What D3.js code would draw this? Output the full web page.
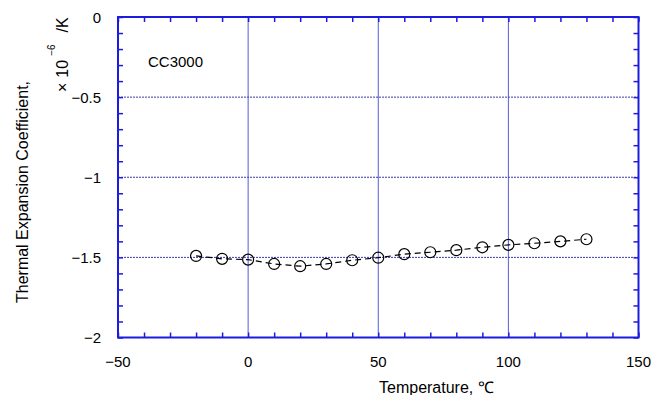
<!DOCTYPE html>
<html>
<head>
<meta charset="utf-8">
<script src="https://cdn.jsdelivr.net/npm/d3@7"></script>
<style>
body { margin: 0; background: #fff; }
text { font-family: "Liberation Sans", Arial, sans-serif; fill: #000; }
</style>
</head>
<body>
<div id="chart"></div>
<script>
// data
var temps = [-20, -10, 0, 10, 20, 30, 40, 50, 60, 70, 80, 90, 100, 110, 120, 130];
var cte = [-1.491, -1.509, -1.514, -1.541, -1.555, -1.541, -1.518, -1.502,
           -1.480, -1.468, -1.455, -1.437, -1.422, -1.412, -1.400, -1.387];
var xTicks = [-50, 0, 50, 100, 150];
var yTicks = [-2, -1.5, -1, -0.5, 0];
var sampleName = "CC3000";

var width = 651, height = 395;
var pLeft = 118, pRight = 638.5, pTop = 17, pBottom = 337.5;

var svg = d3.select("#chart").append("svg")
    .attr("width", width).attr("height", height);

var x = d3.scaleLinear().domain([-50, 150]).range([pLeft, pRight]);
var y = d3.scaleLinear().domain([-2, 0]).range([pBottom, pTop]);

var blue = "#1c1ce0";
var grid = "#5a5ad8";

// grid lines
svg.append("g").selectAll("line")
    .data(xTicks.slice(1, -1))
    .enter().append("line")
    .attr("x1", function (d) { return x(d); })
    .attr("x2", function (d) { return x(d); })
    .attr("y1", pTop).attr("y2", pBottom)
    .attr("stroke", grid).attr("stroke-width", 1);

svg.append("g").selectAll("line")
    .data(yTicks.slice(1, -1))
    .enter().append("line")
    .attr("y1", function (d) { return y(d); })
    .attr("y2", function (d) { return y(d); })
    .attr("x1", pLeft).attr("x2", pRight)
    .attr("stroke", "#3b3ba8").attr("stroke-width", 1)
    .attr("stroke-dasharray", "2,1");

// minor ticks, inward on all four sides
var xMinor = d3.range(-50, 151, 10);
var yMinor = d3.range(0, 21).map(function (i) { return -2 + i * 0.1; });

svg.append("g").attr("transform", "translate(0," + pBottom + ")")
    .call(d3.axisTop(x).tickValues(xMinor).tickSize(5).tickFormat(""));
svg.append("g").attr("transform", "translate(0," + pTop + ")")
    .call(d3.axisBottom(x).tickValues(xMinor).tickSize(5).tickFormat(""));
svg.append("g").attr("transform", "translate(" + pLeft + ",0)")
    .call(d3.axisRight(y).tickValues(yMinor).tickSize(5).tickFormat(""));
svg.append("g").attr("transform", "translate(" + pRight + ",0)")
    .call(d3.axisLeft(y).tickValues(yMinor).tickSize(5).tickFormat(""));

svg.selectAll(".tick line").attr("stroke", blue).attr("stroke-width", 1.5);
svg.selectAll(".domain").remove();

// frame
svg.append("rect")
    .attr("x", pLeft).attr("y", pTop)
    .attr("width", pRight - pLeft).attr("height", pBottom - pTop)
    .attr("fill", "none").attr("stroke", blue).attr("stroke-width", 2);

// tick labels
var fmt = function (d) { return d3.format("")(d).replace("-", "\u2212"); };

svg.append("g").selectAll("text")
    .data(xTicks).enter().append("text")
    .attr("x", function (d) { return x(d); })
    .attr("y", 367)
    .attr("text-anchor", "middle")
    .attr("font-size", 15)
    .text(fmt);

svg.append("g").selectAll("text")
    .data(yTicks).enter().append("text")
    .attr("x", 101)
    .attr("y", function (d) { return y(d) + 5.5; })
    .attr("text-anchor", "end")
    .attr("font-size", 15)
    .text(fmt);

// axis titles
svg.append("text")
    .attr("x", 379).attr("y", 393)
    .attr("font-size", 16)
    .text("Temperature, \u2103");

svg.append("text")
    .attr("transform", "translate(28,303) rotate(-90)")
    .attr("font-size", 16)
    .text("Thermal Expansion Coefficient,");

var unit = svg.append("text")
    .attr("transform", "translate(68,92) rotate(-90)")
    .attr("font-size", 16);
unit.append("tspan").text("\u00d7");
unit.append("tspan").attr("dx", 5).text("10");
unit.append("tspan").attr("dx", 4).attr("dy", -13).attr("font-size", 10).text("\u22126");
unit.append("tspan").attr("dx", 12).attr("dy", 13).text("/K");

// sample label
svg.append("text")
    .attr("x", 148).attr("y", 66.5)
    .attr("font-size", 15)
    .text(sampleName);

// series
var pts = temps.map(function (t, i) { return [t, cte[i]]; });

svg.append("path")
    .datum(pts)
    .attr("fill", "none")
    .attr("stroke", "#000")
    .attr("stroke-width", 1.2)
    .attr("stroke-dasharray", "6,4")
    .attr("d", d3.line()
        .x(function (d) { return x(d[0]); })
        .y(function (d) { return y(d[1]); }));

svg.append("g").selectAll("circle")
    .data(pts).enter().append("circle")
    .attr("cx", function (d) { return x(d[0]); })
    .attr("cy", function (d) { return y(d[1]); })
    .attr("r", 5.5)
    .attr("fill", "none")
    .attr("stroke", "#000")
    .attr("stroke-width", 1.2);
</script>
</body>
</html>
